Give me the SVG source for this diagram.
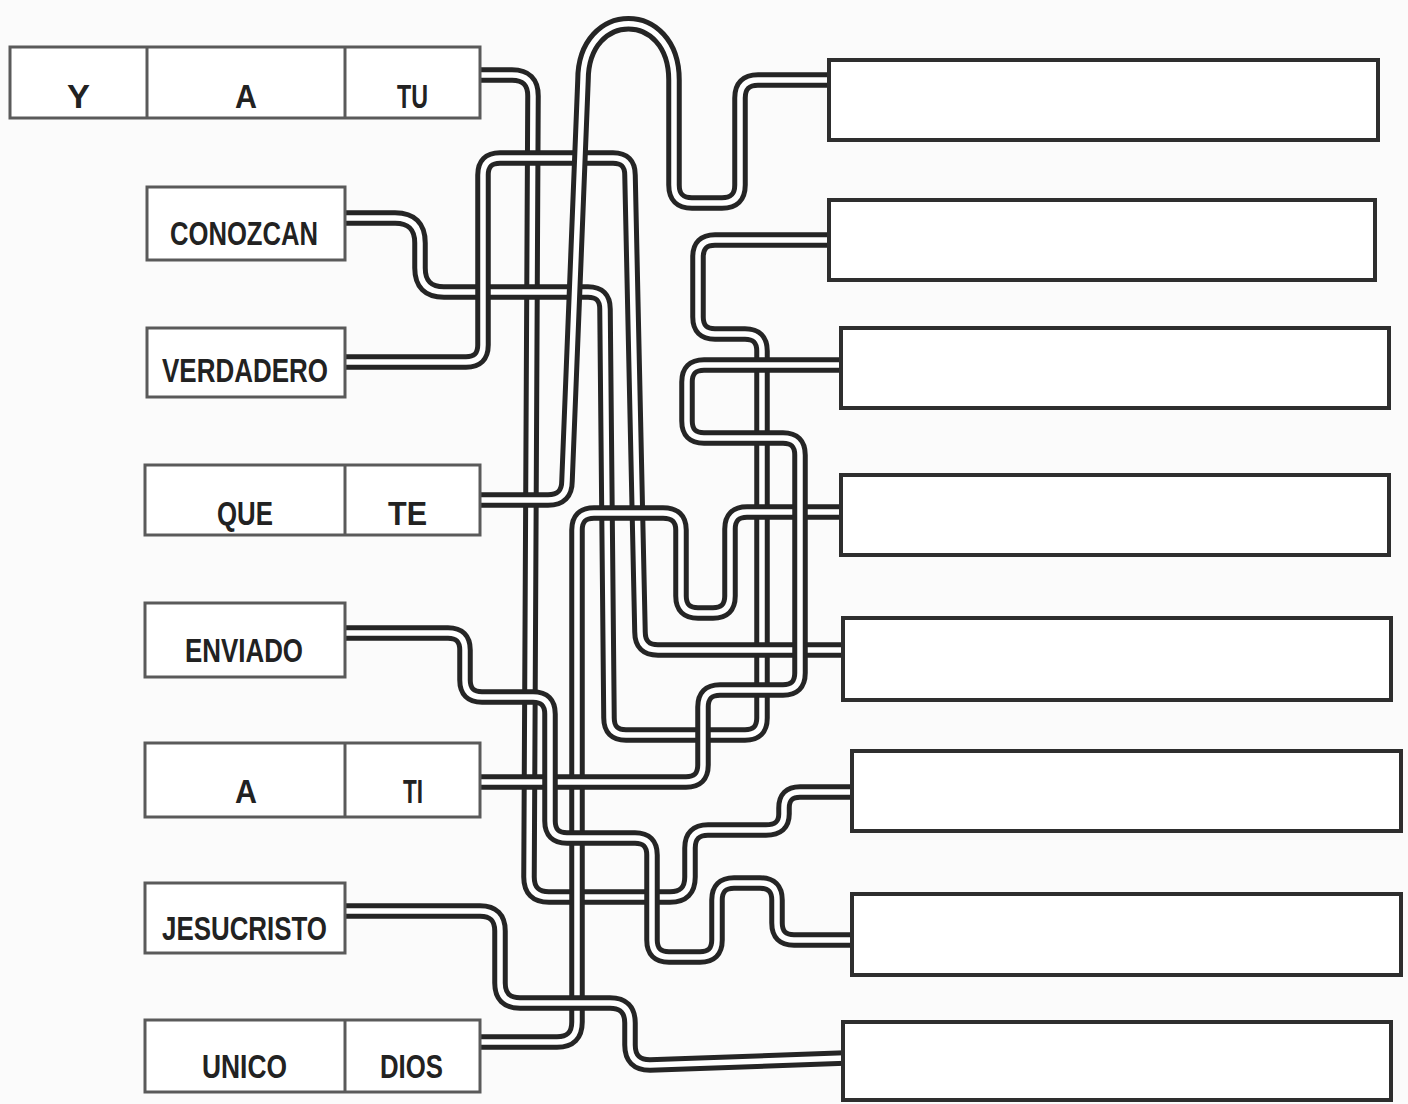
<svg xmlns="http://www.w3.org/2000/svg" xmlns:xlink="http://www.w3.org/1999/xlink" width="1408" height="1104" viewBox="0 0 1408 1104">
<style>
.lb{fill:#fff;stroke:#5a5a5a;stroke-width:3}
.dv{stroke:#5a5a5a;stroke-width:3}
.rb{fill:#fff;stroke:#2e2e2e;stroke-width:4}
.t{font-family:"Liberation Sans",Arial,sans-serif;font-weight:bold;font-size:34px;fill:#222}
.o{fill:none;stroke:#252525;stroke-width:15.5;stroke-linejoin:round}
.i{fill:none;stroke:#fff;stroke-width:5.5;stroke-linejoin:round}
</style>
<defs>
<path id="pTU" d="M 478 75 H 512 Q 533 75 533 96 L 529 877 Q 529 897 549 897 H 670 Q 690 897 690 877 V 848 Q 690 830 708 830 H 766 Q 784 830 784 814 V 808 Q 784 792 800 792 H 854"/>
<path id="pCO" d="M 345 218 H 395 Q 420 218 420 243 V 268 Q 420 292 444 292 H 588 Q 605 292 605 309 L 609 718 Q 609 735 626 735 H 745 Q 762 735 762 718 V 351 Q 762 334 745 334 H 715 Q 698 334 698 317 V 257 Q 698 240 715 240 H 830"/>
<path id="pVE" d="M 345 362 H 466 Q 483 362 483 345 V 175 Q 483 158 500 158 H 613 Q 630 158 630 175 L 640 632 Q 640 650 658 650 H 845"/>
<path id="pTE" d="M 478 500 H 548 Q 567 500 567 481 L 583 80 C 583 5 674 5 674 80 V 185 Q 674 203 692 203 H 722 Q 740 203 740 185 V 98 Q 740 80 758 80 H 831"/>
<path id="pDI" d="M 478 1042 H 557 Q 577 1042 577 1022 V 530 Q 577 513 594 513 H 663 Q 681 513 681 530 V 596 Q 681 613 698 613 H 713 Q 730 613 730 596 V 529 Q 730 512 747 512 H 843"/>
<path id="pTI" d="M 478 782 H 686 Q 703 782 703 765 V 707 Q 703 690 720 690 H 783 Q 800 690 800 673 V 455 Q 800 438 783 438 H 704 Q 687 438 687 421 V 382 Q 687 365 704 365 H 843"/>
<path id="pEN" d="M 345 633 H 448 Q 465 633 465 650 V 680 Q 465 697 482 697 H 533 Q 550 697 550 714 V 821 Q 550 838 567 838 H 635 Q 652 838 652 855 V 940 Q 652 957 669 957 H 700 Q 717 957 717 940 V 900 Q 717 883 734 883 H 760 Q 777 883 777 900 V 923 Q 777 940 794 940 H 854"/>
<path id="pJE" d="M 345 911 H 480 Q 500 911 500 931 V 983 Q 500 1003 520 1003 H 610 Q 630 1003 630 1023 V 1045 Q 630 1065 650 1065 L 845 1058"/>
</defs>
<rect x="0" y="0" width="1408" height="1104" fill="#fbfbfb"/>
<g id="connectors">
<use xlink:href="#pTU" class="o"/><use xlink:href="#pTU" class="i"/>
<use xlink:href="#pCO" class="o"/><use xlink:href="#pCO" class="i"/>
<use xlink:href="#pVE" class="o"/><use xlink:href="#pVE" class="i"/>
<use xlink:href="#pTE" class="o"/><use xlink:href="#pTE" class="i"/>
<use xlink:href="#pDI" class="o"/><use xlink:href="#pDI" class="i"/>
<use xlink:href="#pTI" class="o"/><use xlink:href="#pTI" class="i"/>
<use xlink:href="#pEN" class="o"/><use xlink:href="#pEN" class="i"/>
<use xlink:href="#pJE" class="o"/><use xlink:href="#pJE" class="i"/>
</g>
<g id="row1">
<rect class="lb" x="10" y="47" width="470" height="71"/>
<line class="dv" x1="147" y1="47" x2="147" y2="118"/>
<line class="dv" x1="345" y1="47" x2="345" y2="118"/>
<text class="t" x="67" y="108" textLength="23" lengthAdjust="spacingAndGlyphs">Y</text>
<text class="t" x="235" y="108" textLength="22" lengthAdjust="spacingAndGlyphs">A</text>
<text class="t" x="397" y="108" textLength="31" lengthAdjust="spacingAndGlyphs">TU</text>
</g>
<g id="conozcan">
<rect class="lb" x="147" y="187" width="198" height="73"/>
<text class="t" x="170" y="245" textLength="148" lengthAdjust="spacingAndGlyphs">CONOZCAN</text>
</g>
<g id="verdadero">
<rect class="lb" x="147" y="328" width="198" height="69"/>
<text class="t" x="162" y="382" textLength="166" lengthAdjust="spacingAndGlyphs">VERDADERO</text>
</g>
<g id="queTe">
<rect class="lb" x="145" y="465" width="335" height="70"/>
<line class="dv" x1="345" y1="465" x2="345" y2="535"/>
<text class="t" x="217" y="525" textLength="56" lengthAdjust="spacingAndGlyphs">QUE</text>
<text class="t" x="388" y="525" textLength="39" lengthAdjust="spacingAndGlyphs">TE</text>
</g>
<g id="enviado">
<rect class="lb" x="145" y="603" width="200" height="74"/>
<text class="t" x="185" y="662" textLength="118" lengthAdjust="spacingAndGlyphs">ENVIADO</text>
</g>
<g id="aTi">
<rect class="lb" x="145" y="743" width="335" height="74"/>
<line class="dv" x1="345" y1="743" x2="345" y2="817"/>
<text class="t" x="235" y="803" textLength="22" lengthAdjust="spacingAndGlyphs">A</text>
<text class="t" x="403" y="803" textLength="20" lengthAdjust="spacingAndGlyphs">TI</text>
</g>
<g id="jesucristo">
<rect class="lb" x="145" y="883" width="200" height="70"/>
<text class="t" x="162" y="940" textLength="165" lengthAdjust="spacingAndGlyphs">JESUCRISTO</text>
</g>
<g id="unicoDios">
<rect class="lb" x="145" y="1020" width="335" height="72"/>
<line class="dv" x1="345" y1="1020" x2="345" y2="1092"/>
<text class="t" x="202" y="1078" textLength="85" lengthAdjust="spacingAndGlyphs">UNICO</text>
<text class="t" x="380" y="1078" textLength="63" lengthAdjust="spacingAndGlyphs">DIOS</text>
</g>
<g id="box1"><rect class="rb" x="829" y="60" width="549" height="80"/></g>
<g id="box2"><rect class="rb" x="829" y="200" width="546" height="80"/></g>
<g id="box3"><rect class="rb" x="841" y="328" width="548" height="80"/></g>
<g id="box4"><rect class="rb" x="841" y="475" width="548" height="80"/></g>
<g id="box5"><rect class="rb" x="843" y="618" width="548" height="82"/></g>
<g id="box6"><rect class="rb" x="852" y="751" width="549" height="80"/></g>
<g id="box7"><rect class="rb" x="852" y="894" width="549" height="81"/></g>
<g id="box8"><rect class="rb" x="843" y="1022" width="548" height="78"/></g>
</svg>
